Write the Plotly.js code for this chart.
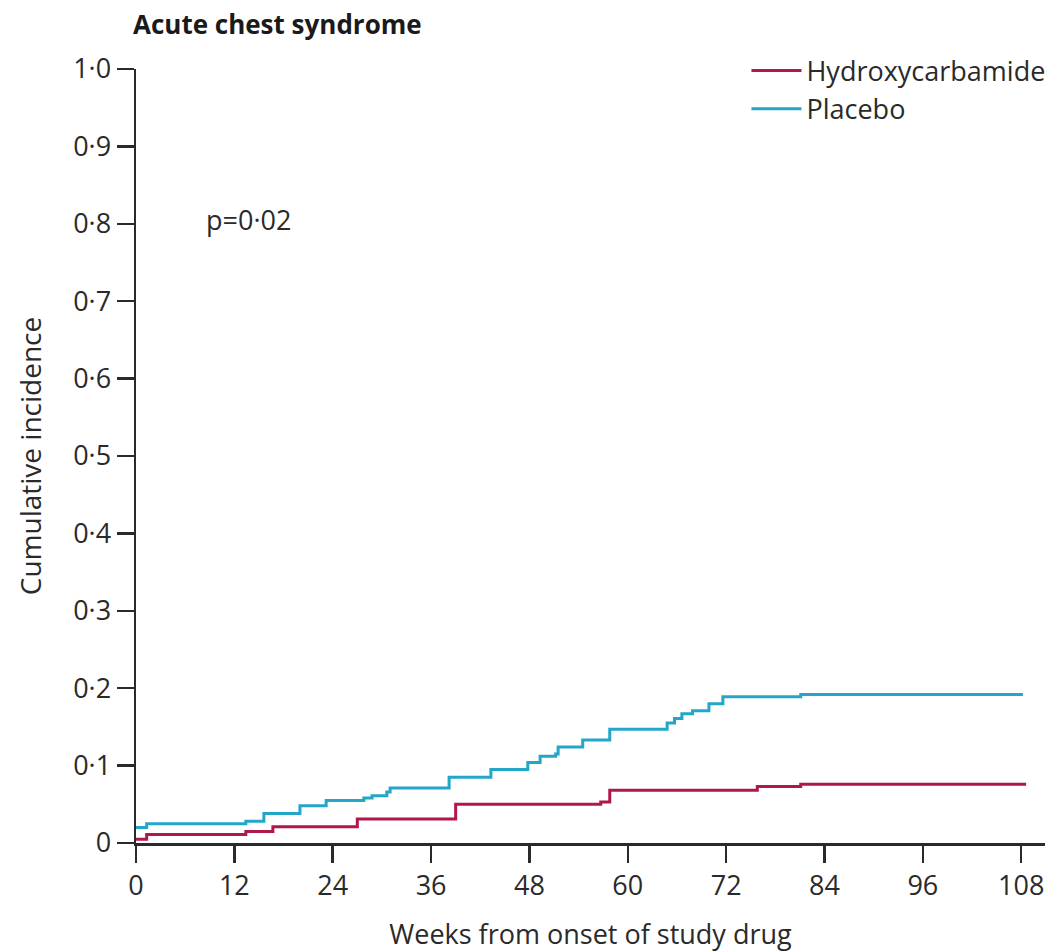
<!DOCTYPE html>
<html>
<head>
<meta charset="utf-8">
<script src="https://cdn.plot.ly/plotly-3.0.1.min.js"></script>
<style>html,body{margin:0;padding:0;background:#fff;}#chart{width:1056px;height:952px;}</style>
</head>
<body>
<div id="chart"></div>
<script>
// Data (weeks, cumulative incidence)
const hydroxyWeeks = [0, 1.3, 13.4, 16.7, 27.0, 39.0, 56.7, 57.8, 75.8, 81.1, 108.6];
const hydroxyValues = [0.005, 0.011, 0.015, 0.021, 0.031, 0.050, 0.053, 0.068, 0.073, 0.076, 0.076];

const placeboWeeks = [0, 1.3, 13.4, 15.6, 20.0, 23.2, 27.8, 28.8, 30.6, 31.0, 38.2, 43.3, 47.8, 49.3, 51.2, 51.5, 54.5, 57.8, 64.8, 65.7, 66.6, 67.9, 69.9, 71.6, 81.1, 108.2];
const placeboValues = [0.020, 0.025, 0.028, 0.038, 0.048, 0.055, 0.058, 0.061, 0.066, 0.071, 0.085, 0.095, 0.104, 0.112, 0.115, 0.124, 0.133, 0.147, 0.155, 0.161, 0.167, 0.171, 0.180, 0.189, 0.192, 0.192];

const xTickVals = [0, 12, 24, 36, 48, 60, 72, 84, 96, 108];
const xTickText = ["0", "12", "24", "36", "48", "60", "72", "84", "96", "108"];
const yTickVals = [0, 0.1, 0.2, 0.3, 0.4, 0.5, 0.6, 0.7, 0.8, 0.9, 1.0];
const yTickText = ["0", "0·1", "0·2", "0·3", "0·4", "0·5", "0·6", "0·7", "0·8", "0·9", "1·0"];

const seriesNames = ["Hydroxycarbamide", "Placebo"];
const pText = "p=0·02";

const FONT = "'Open Sans', 'Noto Sans', sans-serif";
const TXT = "#2a2a2a";
const red = "#b0174a";
const blue = "#24a6c9";

const traces = [
  {x: hydroxyWeeks, y: hydroxyValues, name: seriesNames[0], mode: "lines",
   line: {shape: "hv", color: red, width: 3}},
  {x: placeboWeeks, y: placeboValues, name: seriesNames[1], mode: "lines",
   line: {shape: "hv", color: blue, width: 3}}
];

const layout = {
  width: 1056, height: 952,
  margin: {l: 136, r: 11, t: 69, b: 109, pad: 0, autoexpand: false},
  paper_bgcolor: "#fff", plot_bgcolor: "#fff",
  font: {family: FONT, size: 27, color: TXT},
  showlegend: true,
  legend: {x: 1.006, xanchor: "right", y: 1.029, yanchor: "top", bgcolor: "rgba(0,0,0,0)",
           font: {family: FONT, size: 27, color: TXT}, tracegroupgap: 0, itemwidth: 50},
  title: {text: "<b>Acute chest syndrome</b>", x: 133 / 1056, xref: "container", xanchor: "left",
          y: 1 - 25 / 952, yref: "container", yanchor: "middle",
          font: {family: FONT, size: 26, color: "#1a1a1a"}},
  xaxis: {range: [0, 110.9], tickvals: xTickVals, ticktext: xTickText, automargin: false,
          showline: true, linecolor: TXT, linewidth: 2.5,
          ticks: "outside", ticklen: 17, tickwidth: 2.5, tickcolor: TXT,
          showgrid: false, zeroline: false, tickfont: {family: FONT, size: 27, color: TXT},
          title: {text: "Weeks from onset of study drug", standoff: 26, font: {family: FONT, size: 27, color: TXT}},
          fixedrange: true},
  yaxis: {range: [0, 1], tickvals: yTickVals, ticktext: yTickText, automargin: false,
          showline: true, linecolor: TXT, linewidth: 2.5,
          ticks: "outside", ticklen: 17, tickwidth: 2.5, tickcolor: TXT,
          showgrid: false, zeroline: false, tickfont: {family: FONT, size: 27, color: TXT},
          title: {text: "Cumulative incidence", standoff: 24, font: {family: FONT, size: 28, color: TXT}},
          fixedrange: true},
  annotations: [
    {text: pText, x: 8.3, y: 0.806, xref: "x", yref: "y", xanchor: "left", yanchor: "middle",
     showarrow: false, font: {family: FONT, size: 27, color: TXT}}
  ]
};

Plotly.newPlot("chart", traces, layout, {displayModeBar: false, staticPlot: true});
</script>
</body>
</html>
